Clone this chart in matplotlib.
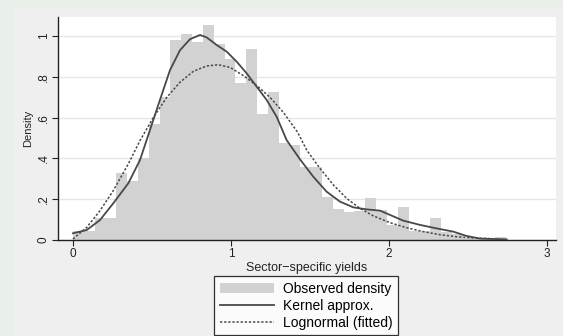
import matplotlib.pyplot as plt
from matplotlib.patches import Rectangle

plt.rcParams['font.family'] = ['Liberation Sans', 'DejaVu Sans']

# histogram (observed density), bins of equal width starting at 0
bin_width = 0.0685
bin_heights = [0.045, 0.045, 0.11, 0.11, 0.33, 0.29, 0.40, 0.57, 0.70, 0.98,
               1.01, 0.97, 1.055, 0.96, 0.885, 0.77, 0.935, 0.62, 0.725, 0.475,
               0.465, 0.36, 0.36, 0.21, 0.152, 0.139, 0.14, 0.204, 0.147, 0.073,
               0.163, 0.045, 0.042, 0.106, 0.04, 0.028, 0.01, 0.006, 0.006, 0.014]
bin_left = [i * bin_width for i in range(len(bin_heights))]

# kernel density approximation
kernel_x = [0.0, 0.087, 0.171, 0.255, 0.35, 0.424, 0.487, 0.55, 0.614, 0.677,
            0.74, 0.804, 0.846, 0.909, 0.973, 1.036, 1.099, 1.163, 1.226, 1.289,
            1.352, 1.437, 1.521, 1.605, 1.69, 1.774, 1.859, 1.943, 2.006, 2.09,
            2.196, 2.3, 2.407, 2.49, 2.576, 2.745]
kernel_y = [0.033, 0.049, 0.098, 0.18, 0.278, 0.392, 0.539, 0.686, 0.833, 0.93,
            0.984, 1.005, 0.993, 0.956, 0.923, 0.874, 0.817, 0.751, 0.686, 0.604,
            0.49, 0.395, 0.31, 0.237, 0.188, 0.16, 0.15, 0.144, 0.123, 0.095,
            0.074, 0.057, 0.041, 0.02, 0.007, 0.003]

# fitted lognormal
logn_x = [0.0, 0.087, 0.171, 0.255, 0.35, 0.424, 0.508, 0.593, 0.677, 0.762,
          0.846, 0.92, 0.994, 1.078, 1.163, 1.247, 1.331, 1.42, 1.479, 1.563,
          1.648, 1.732, 1.816, 1.901, 2.006, 2.112, 2.217, 2.323, 2.428, 2.534,
          2.66]
logn_y = [0.005, 0.062, 0.144, 0.242, 0.373, 0.487, 0.6, 0.699, 0.773, 0.827,
          0.853, 0.859, 0.846, 0.806, 0.757, 0.699, 0.626, 0.53, 0.441, 0.351,
          0.27, 0.204, 0.155, 0.118, 0.085, 0.06, 0.041, 0.026, 0.016, 0.01,
          0.006]

x_ticks = [0, 1, 2, 3]
y_ticks = [0, 0.2, 0.4, 0.6, 0.8, 1.0]
y_tick_labels = ["0", ".2", ".4", ".6", ".8", "1"]

fig = plt.figure(figsize=(5.63, 3.36), dpi=100, facecolor='#e8f0e9')
fig.patches.append(Rectangle((14 / 563, 0), 548 / 563, 329 / 336,
                             transform=fig.transFigure, facecolor='#efefef',
                             edgecolor='none', zorder=-5))

ax = fig.add_axes([58 / 563, 96 / 336, 498 / 563, 223 / 336])
ax.set_zorder(1)
ax.set_facecolor('white')

bars = ax.bar(bin_left, bin_heights, width=bin_width, align='edge',
              color='#d2d2d2', edgecolor='none', zorder=2)
kern, = ax.plot(kernel_x, kernel_y, color='#484848', lw=1.3, zorder=3)
logn, = ax.plot(logn_x, logn_y, color='#484848', lw=1.1,
                linestyle=(0, (1.5, 1.2)), zorder=3)

ax.set_xlim(-0.095, 3.057)
ax.set_ylim(0, 1.093)
ax.set_xticks(x_ticks)
ax.set_yticks(y_ticks)
ax.set_yticklabels(y_tick_labels, rotation=90, va='center')
ax.tick_params(labelsize=8.5, length=4, width=0.8, color='#222222',
               labelcolor='#222222', pad=2)
ax.grid(axis='y', color='#e6e6e6', lw=1, zorder=1)
ax.set_axisbelow(True)
for s in ['top', 'right']:
    ax.spines[s].set_visible(False)
for s in ['left', 'bottom']:
    ax.spines[s].set_color('#222222')
    ax.spines[s].set_linewidth(1.0)

ax.set_xlabel("Sector\u2212specific yields", fontsize=9, color='#222222',
              labelpad=1)
ax.set_ylabel("Density", fontsize=8, color='#222222', labelpad=3)

leg = fig.legend([bars, kern, logn],
                 ['Observed density', 'Kernel approx.', 'Lognormal (fitted)'],
                 loc='lower center', bbox_to_anchor=(306 / 563, 0.0),
                 fontsize=10, frameon=True, fancybox=False, edgecolor='black',
                 borderpad=0.4, handlelength=3.9, handletextpad=0.65,
                 labelspacing=0.22, borderaxespad=0.05)
leg.get_frame().set_linewidth(0.9)

fig.savefig('out.png', dpi=100, facecolor=fig.get_facecolor())
